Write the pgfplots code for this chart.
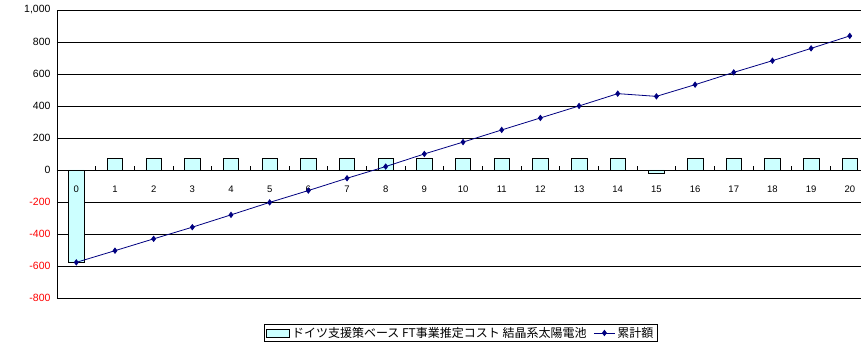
\documentclass[border=0pt]{standalone}
\usepackage{fontspec}
\setmainfont{Liberation Sans}
\newfontfamily\cjk{Noto Sans CJK JP}
\usepackage{pgfplots}
\pgfplotsset{compat=1.18}
\definecolor{barfill}{HTML}{CCFFFF}
\definecolor{navyline}{HTML}{000080}
\pgfplotsset{
  barlegend/.style={legend image code/.code={\draw[##1, line width=0.8pt] (0pt,-4pt) rectangle (23pt,4pt);}},
  linelegend/.style={legend image code/.code={\draw[mark repeat=2, mark phase=2, ##1] plot coordinates {(0pt,0pt) (10.5pt,0pt) (21pt,0pt)};}},
}
\begin{document}
\begin{tikzpicture}
\begin{axis}[name=ax, at={(0,0)}, anchor=south west,
  scale only axis, width=804pt, height=288pt,
  xmin=-0.5, xmax=20.28, ymin=-800, ymax=1000,
  axis x line*=middle, axis y line*=left,
  axis line style={black, line width=0.8pt},
  xtick={0,...,20},
  xticklabels={},
  minor xtick={0.5,1.5,...,19.5},
  major tick length=0pt, minor tick length=4pt,
  tick align=center,
  minor x tick style={yshift=2pt, black, line width=0.6pt},
  ytick={-800,-600,...,1000},
  yticklabels={\textcolor{red}{-800},\textcolor{red}{-600},\textcolor{red}{-400},\textcolor{red}{-200},0,200,400,600,800,{1,000}},
  yticklabel style={font=\fontsize{10.5}{12}\selectfont, xshift=-3pt},
  ymajorgrids, grid style={black, line width=0.6pt},
  clip=false,
  legend style={at={(0.5025,-0.09)}, anchor=north, draw=black, line width=0.8pt,
    font=\cjk\fontsize{12}{14}\selectfont, inner xsep=2pt, inner ysep=1pt, legend columns=2,
    /tikz/every even column/.append style={column sep=5pt},
    nodes={inner xsep=2pt}},
  legend cell align=left,
]
\addplot[ybar, bar width=0.4, fill=barfill, draw=black, line width=0.6pt, barlegend] coordinates {
 (0,-578) (1,72) (2,72) (3,72) (4,72) (5,72) (6,72) (7,72) (8,72) (9,72) (10,72)
 (11,72) (12,72) (13,72) (14,72) (15,-18) (16,72) (17,72) (18,72) (19,72) (20,72)};
\addlegendentry{ドイツ支援策ベース FT事業推定コスト 結晶系太陽電池}
\addplot[sharp plot, color=navyline, line width=0.8pt, mark=diamond*, mark size=2.6pt, linelegend] coordinates {
 (0,-578) (1,-505) (2,-431) (3,-358) (4,-281) (5,-203) (6,-129) (7,-52) (8,21) (9,100) (10,174)
 (11,250) (12,325) (13,400) (14,477) (15,460) (16,533) (17,610) (18,683) (19,760) (20,838)};
\addlegendentry{累計額}
\pgfplotsinvokeforeach{0,...,20}{
  \node[anchor=north, yshift=-13pt, inner sep=3pt, font=\fontsize{9.5}{11}\selectfont] at (axis cs:#1,0) {#1};
}
\end{axis}
\path[use as bounding box] ([shift={(-57pt,-34pt)}]ax.south west) rectangle ([shift={(0pt,10pt)}]ax.north east);
\end{tikzpicture}
\end{document}
